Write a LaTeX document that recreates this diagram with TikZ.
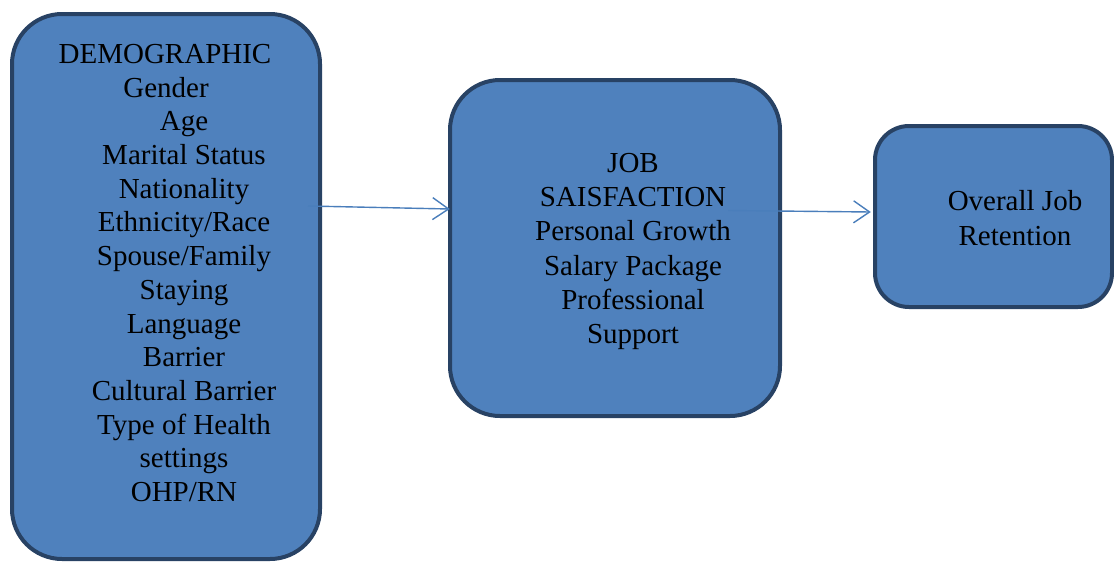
\documentclass[tikz,border=0pt]{standalone}
\usepackage{fontspec}
\setmainfont{Liberation Serif}
\usetikzlibrary{arrows.meta}
\definecolor{boxfill}{RGB}{79,129,189}
\definecolor{boxline}{RGB}{40,66,100}
\definecolor{arrline}{RGB}{74,126,187}
\begin{document}
\begin{tikzpicture}[x=1pt,y=-1pt,
  box/.style={draw=boxline, fill=boxfill, line width=4pt, inner sep=0pt},
  txt/.style={align=center, inner sep=0pt, font=\fontsize{29}{33.7}\selectfont},
  arr/.style={draw=arrline, line width=1.4pt, -{Straight Barb[length=16pt,width=22pt,line width=1.4pt]}}]
\useasboundingbox (0,0) rectangle (1114,563);
% boxes
\draw[box, rounded corners=50pt] (12,14) rectangle (320,559);
\node[minimum width=308pt, minimum height=545pt, inner sep=0pt] (b1) at (166,286.5) {};
\draw[box, rounded corners=50pt] (450,80) rectangle (780,416);
\node[minimum width=330pt, minimum height=336pt, inner sep=0pt] (b2) at (615,248) {};
\draw[box, rounded corners=34pt] (875,126) rectangle (1112,307);
\node[minimum width=237pt, minimum height=181pt, inner sep=0pt] (b3) at (993.5,216.5) {};
% texts
\node[txt] (t1) at (184,273) {DEMOGRAPHIC\kern38pt\\Gender\kern36pt\\Age\\Marital Status\\Nationality\\Ethnicity/Race\\Spouse/Family\\Staying\\Language\\Barrier\\Cultural Barrier\\Type of Health\\settings\\OHP/RN};
\node[txt, font=\fontsize{29}{34.2}\selectfont] (t2) at (633,251.5) {JOB\\SAISFACTION\\Personal Growth\\Salary Package\\Professional\\Support};
\node[txt, font=\fontsize{29}{35}\selectfont] (t3) at (1015,218) {Overall Job\\Retention};
% arrows
\coordinate (a1s) at (308,206);
\coordinate (a2s) at (728,210.5);
\draw[arr] (a1s) -- (b2.west |- 0,209);
\draw[arr] (a2s) -- ([xshift=-4pt]b3.west |- 0,212);
\end{tikzpicture}
\end{document}
